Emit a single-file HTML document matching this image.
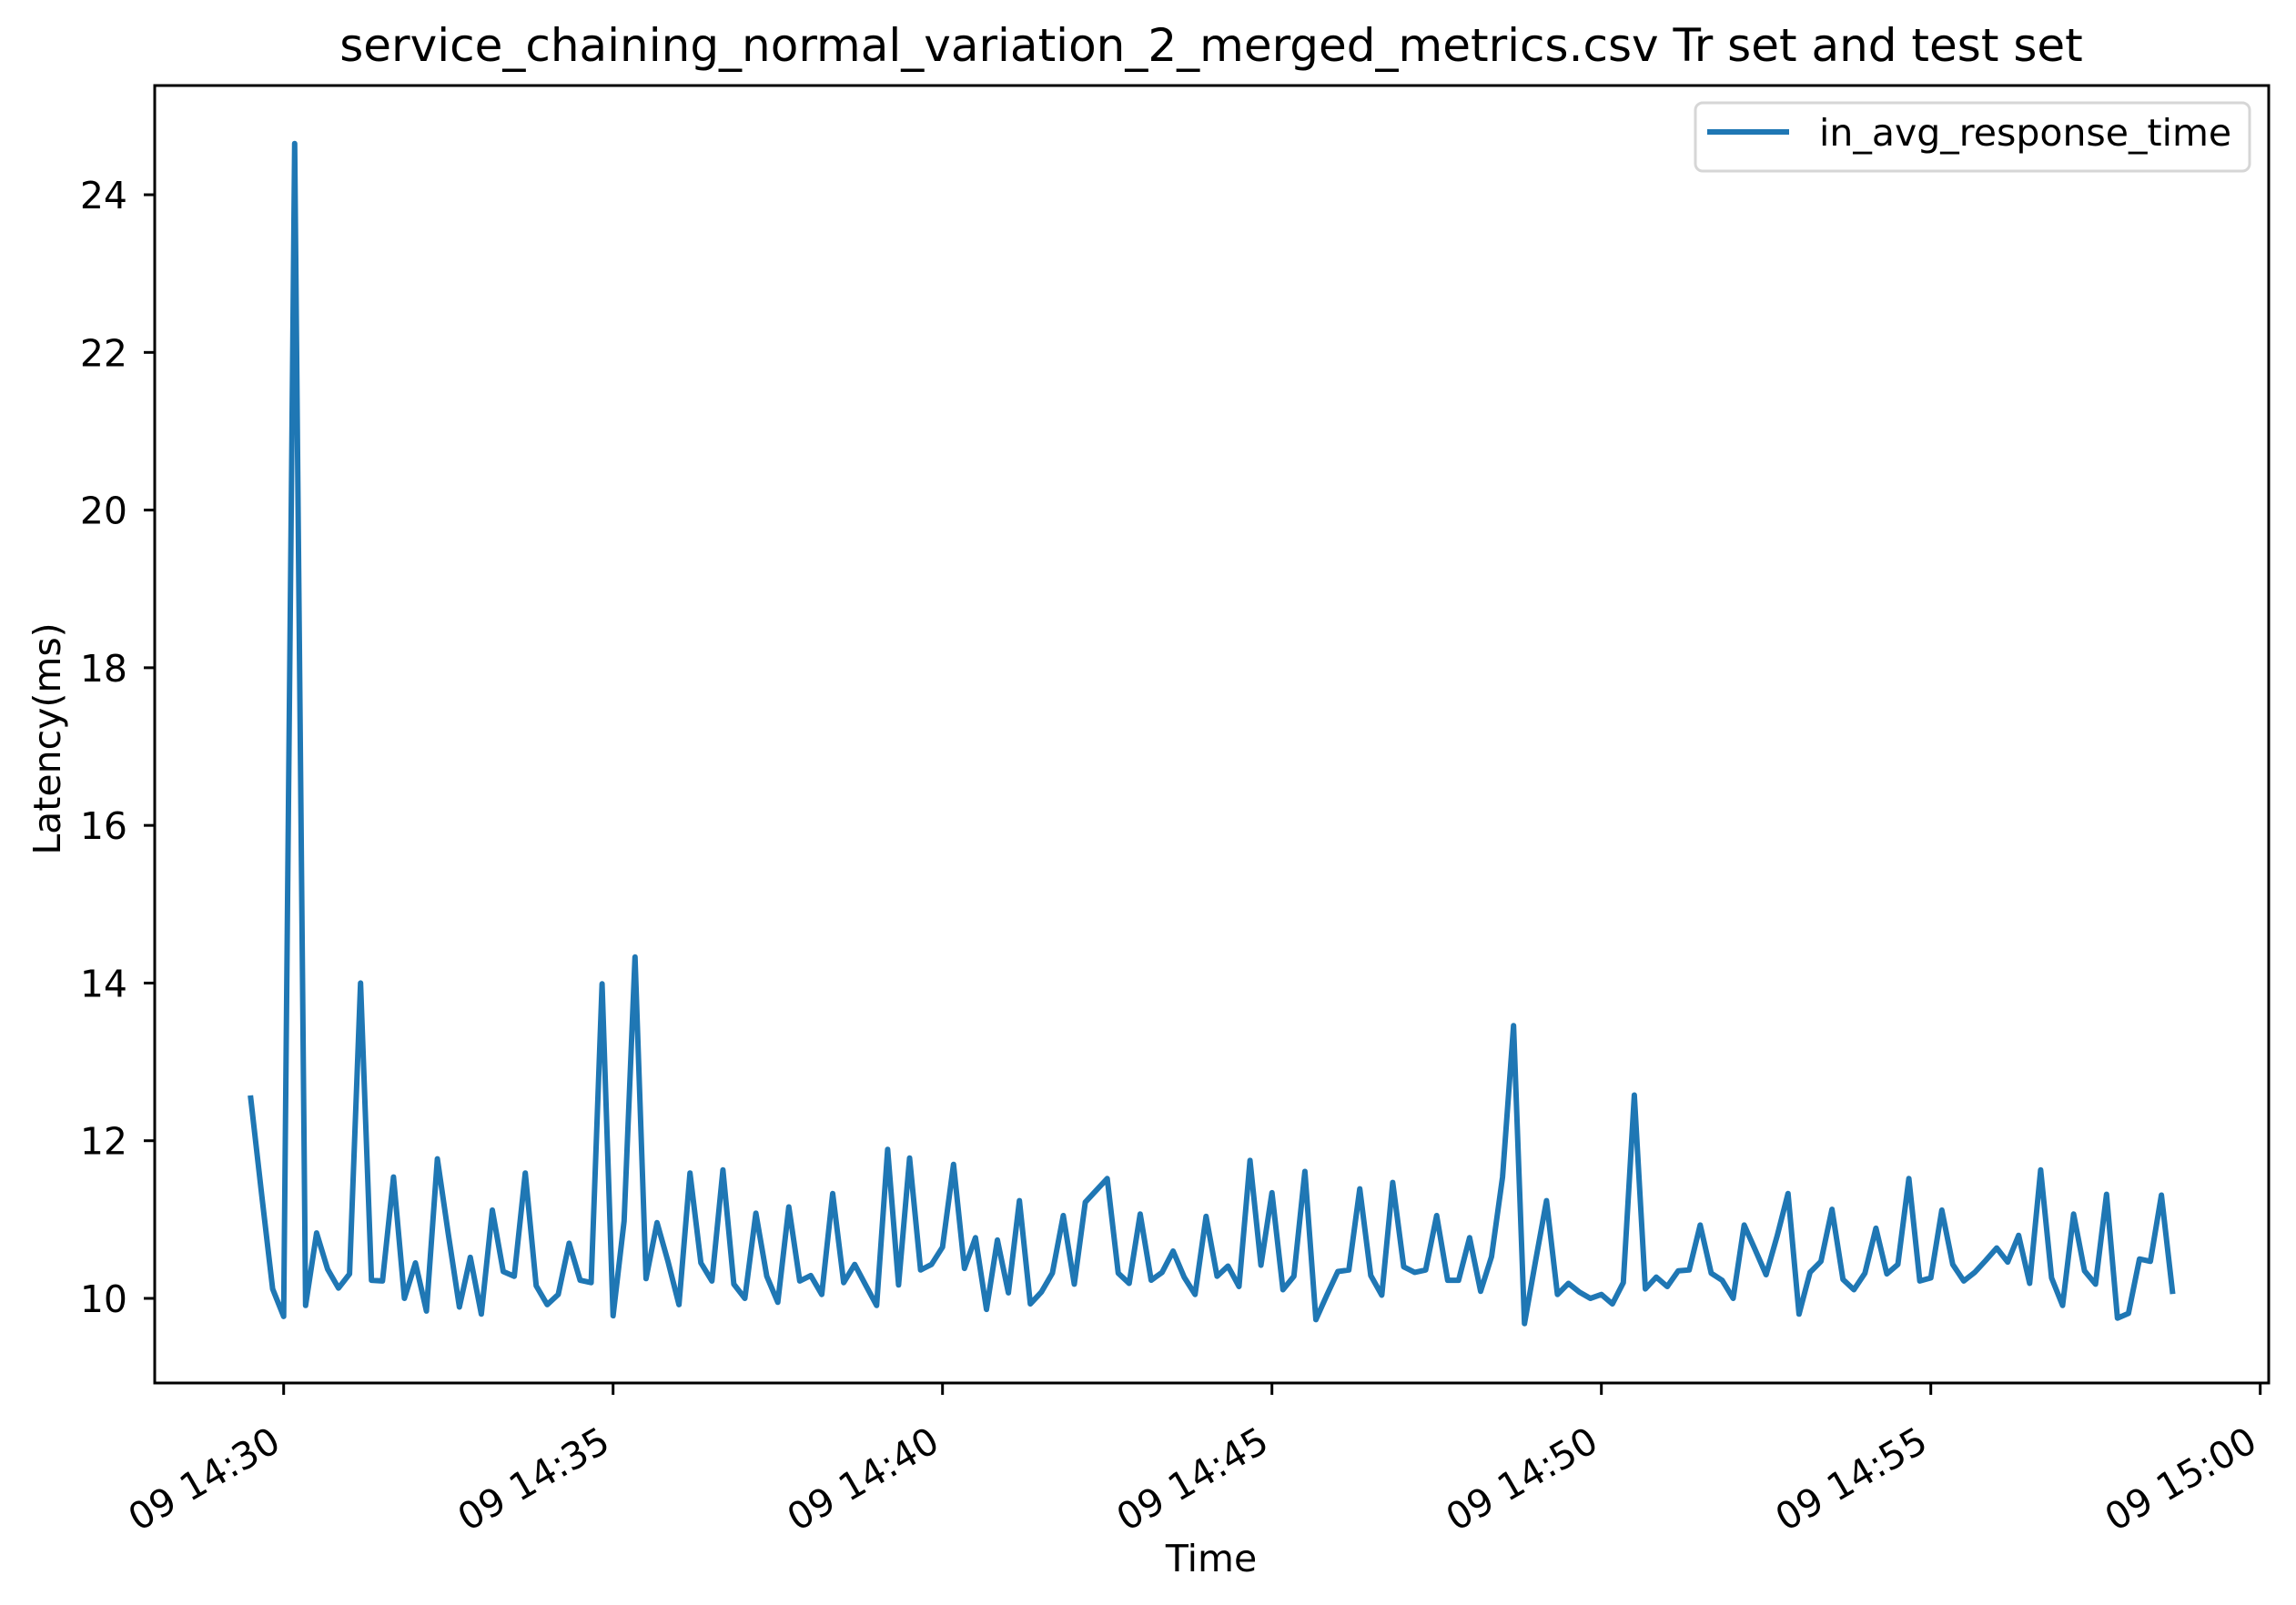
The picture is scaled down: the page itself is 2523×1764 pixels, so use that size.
<!DOCTYPE html>
<html><head><meta charset="utf-8"><style>
html,body{margin:0;padding:0;background:#fff;}
svg{display:block;font-family:"DejaVu Sans","Liberation Sans",sans-serif;}
</style></head><body>
<svg id="chart" width="2523" height="1764" viewBox="0 0 2523 1764" xmlns="http://www.w3.org/2000/svg">
<rect width="2523" height="1764" fill="#fff"/>
<text x="1331" y="67" font-size="50" text-anchor="middle">service_chaining_normal_variation_2_merged_metrics.csv Tr set and test set</text>
<g id="yticks"></g>
<g id="xticks"></g>
<g id="series"></g>
<rect x="170" y="94" width="2323" height="1426" fill="none" stroke="#000" stroke-width="3"/>
<text x="1331" y="1727" font-size="41" text-anchor="middle">Time</text>
<text transform="translate(66,812) rotate(-90)" font-size="41" text-anchor="middle">Latency(ms)</text>
<g>
<rect x="1863" y="113" width="609" height="75" rx="8" fill="#fff" stroke="#d6d6d6" stroke-width="3"/>
<line x1="1876" y1="145" x2="1966" y2="145" stroke="#1f77b4" stroke-width="6"/>
<text x="1999" y="160" font-size="41">in_avg_response_time</text>
</g>
</svg>
<script>
const startTime = '14:29:30';
const stepSeconds = 10;
const values = [12.54,11.31,10.12,9.77,24.65,9.91,10.83,10.37,10.13,10.31,14.0,10.23,10.22,11.54,10.0,10.45,9.84,11.77,10.81,9.89,10.52,9.80,11.12,10.34,10.28,11.59,10.16,9.92,10.05,10.70,10.23,10.20,13.99,9.78,10.98,14.33,10.25,10.96,10.47,9.92,11.59,10.45,10.22,11.63,10.18,10.0,
11.08,10.28,9.95,11.16,10.22,10.29,10.05,11.33,10.20,10.43,10.17,9.91,11.89,10.17,11.78,10.36,10.43,10.65,11.70,10.38,10.77,9.86,10.74,10.07,11.24,9.93,10.08,10.32,11.05,10.18,11.22,11.37,11.52,10.32,10.19,11.07,10.23,10.33,10.60,10.27,10.05,11.04,10.28,10.41,
10.15,11.75,10.42,11.34,10.11,10.28,11.61,9.73,10.04,10.34,10.36,11.39,10.29,10.04,11.47,10.40,10.33,10.36,11.05,10.23,10.23,10.77,10.09,10.53,11.54,13.46,9.68,10.47,11.24,10.05,10.19,10.08,10.0,10.05,9.93,10.20,12.58,10.12,10.27,10.15,10.35,10.36,10.93,10.32,10.23,
10.0,10.93,10.62,10.30,10.79,11.33,9.80,10.33,10.47,11.13,10.24,10.11,10.32,10.89,10.31,10.43,11.52,10.22,10.26,11.12,10.43,10.22,10.33,10.48,10.64,10.46,10.80,10.19,11.63,10.26,9.91,11.07,10.35,10.18,11.32,9.75,9.81,10.50,10.47,11.31,10.09];
const yTicks = [10,12,14,16,18,20,22,24];
const xTickLabels = ['09 14:30','09 14:35','09 14:40','09 14:45','09 14:50','09 14:55','09 15:00'];
const xTickMinutes = [30,35,40,45,50,55,60];

const NS = 'http://www.w3.org/2000/svg';
function yScale(v){ return 1427 - (v - 10) * 86.64; }
function xScaleMin(m){ return 311.7 + (m - 30) * 72.4; }
function toMin(t){ const p = t.split(':').map(Number); return (p[0]-14)*60 + p[1] + p[2]/60; }
function mk(tag, attrs, parent){ const e = document.createElementNS(NS, tag); for (const k in attrs) e.setAttribute(k, attrs[k]); parent.appendChild(e); return e; }

const yg = document.getElementById('yticks');
yTicks.forEach(v => {
  const y = yScale(v);
  const l = mk('line', {x1:158, x2:170, y1:y, y2:y, stroke:'#000', 'stroke-width':3}, yg);
  
  
  const t = mk('text', {x:140, y:y+15, 'font-size':41, 'text-anchor':'end'}, yg);
  t.textContent = v;
  
  
});

const xg = document.getElementById('xticks');
xTickMinutes.forEach((m, i) => {
  const x = xScaleMin(m);
  const l = mk('line', {x1:x, x2:x, y1:1520, y2:1533, stroke:'#000', 'stroke-width':3}, xg);
  
  
  const t = mk('text', {'font-size':41, 'text-anchor':'end', transform:'translate(' + (x-16) + ',1566) rotate(-30) translate(0,30)'}, xg);
  t.textContent = xTickLabels[i];
  
  
});

const t0 = toMin(startTime);
const pts = values.map((v, i) => xScaleMin(t0 + i*stepSeconds/60).toFixed(1) + ',' + yScale(v).toFixed(1)).join(' ');
const sg = document.getElementById('series');
const pl = mk('polyline', {points: pts, fill:'none', stroke:'#1f77b4', 'stroke-width':6, 'stroke-linejoin':'round', 'stroke-linecap':'square'}, sg);


</script>
</body></html>
